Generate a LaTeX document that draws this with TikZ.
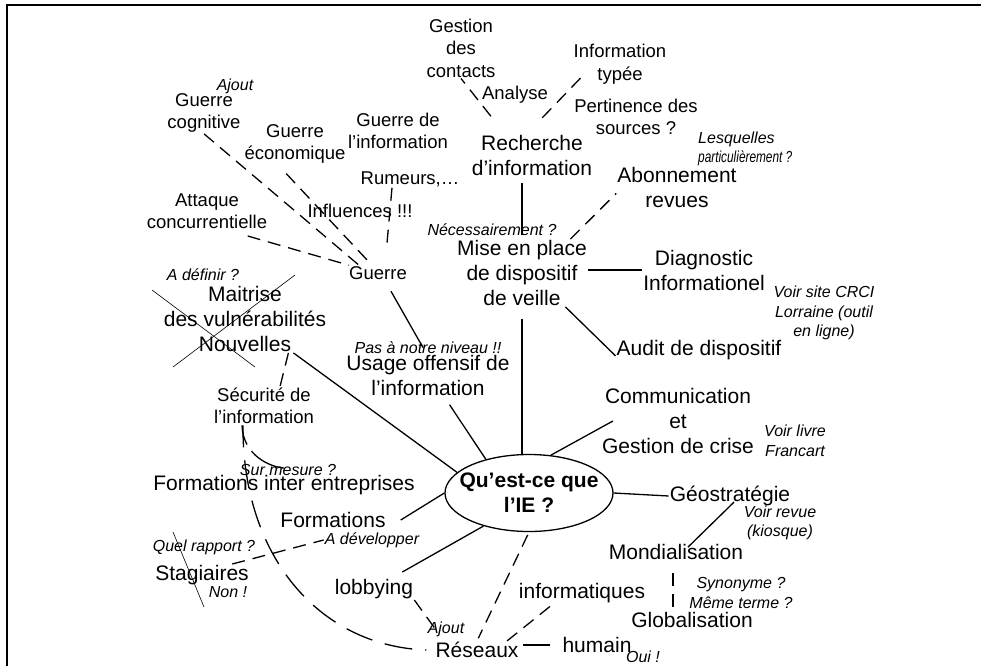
\documentclass[tikz,border=0pt]{standalone}
\usepackage{graphicx}
\usepackage{fontspec}
\setmainfont{Liberation Sans}
\usetikzlibrary{shapes.geometric,calc}

\begin{document}
\begin{tikzpicture}[x=1pt,y=-1pt,
	big/.style={font=\fontsize{21}{25}\selectfont,align=center,inner sep=1pt},
	med/.style={font=\fontsize{18.5}{22.5}\selectfont,align=center,inner sep=1pt},
	note/.style={font=\fontsize{16}{19.5}\selectfont\itshape,align=center,inner sep=1pt},
	link/.style={line width=1.3pt},
	dashy/.style={line width=1.3pt,dash pattern=on 13pt off 8pt},
	strike/.style={line width=0.6pt}]
\useasboundingbox (0,0) rectangle (981,666);
\draw[line width=1.2pt] (7,666) -- (7,5) -- (981,5);

% Centre
\node[ellipse,draw,line width=1.3pt,inner xsep=-11pt,inner ysep=4.5pt,
	minimum width=168pt,minimum height=77pt,
	font=\bfseries\fontsize{21}{25}\selectfont,align=center] (ie) at (529,493) {Qu’est-ce que\\l’IE ?};

% Veille
\node[big] (rech) at (532,155) {Recherche\\d’information};
\node[big] (mise) at (522,273) {Mise en place\\de dispositif\\de veille};
\node[big] (abon) at (677,187) {Abonnement\\revues};
\node[big] (diag) at (704,270) {Diagnostic\\Informationel};
\node[big] (audit) at (699,350) {Audit de dispositif};
\node[med] (gestion) at (461,48) {Gestion\\des\\contacts};
\node[med] (analyse) at (515,95) {Analyse};
\node[med] (infotype) at (620,64) {Information\\typée};
\node[med] (pert) at (636,117) {Pertinence des\\sources ?};
\node[note,align=left,anchor=west] (lesq) at (697,149) {Lesquelles\\\scalebox{0.74}[1]{particulièrement ?}};
\node[note] (neces) at (492,230) {Nécessairement ?};
\node[note] (crci) at (824,313) {Voir site CRCI\\Lorraine (outil\\en ligne)};

% Communication, géostratégie
\node[big] (comm) at (678,421) {Communication\\et\\Gestion de crise};
\node[note] (livre) at (795,441) {Voir livre\\Francart};
\node[big] (geo) at (730,496) {Géostratégie};
\node[note] (revue) at (780,523) {Voir revue\\(kiosque)};
\node[big] (mond) at (676,552) {Mondialisation};
\node[note] (synon) at (741,593) {Synonyme ?\\Même terme ?};
\node[big] (glob) at (692,620) {Globalisation};

% Réseaux
\node[big] (humain) at (597,645) {humain};
\node[note] (oui) at (643,657) {Oui !};
\node[big] (reseaux) at (477,650) {Réseaux};
\node[note] (ajout2) at (446,629) {Ajout};
\node[big] (info) at (582,593) {informatiques};
\node[big] (lobby) at (374,589) {lobbying};

% Formations
\node[big] (form) at (333,520) {Formations};
\node[note] (adev) at (372,540) {A développer};
\node[big] (forminter) at (284,485) {Formations inter entreprises};
\node[note] (surmes) at (288,470) {Sur mesure ?};
\node[big] (stag) at (202,575) {Stagiaires};
\node[note] (quel) at (204,547) {Quel rapport ?};
\node[note] (non) at (228,592) {Non !};

% Usage offensif, vulnérabilités
\node[big] (usage) at (428,375) {Usage offensif de\\l’information};
\node[note] (pasniv) at (428,348) {Pas à notre niveau !!};
\node[big] (maitr) at (245,319) {Maitrise\\des vulnérabilités\\Nouvelles};
\node[note] (adef) at (203,275) {A définir ?};
\node[med] (secu) at (264,406) {Sécurité de\\l’information};

% Guerre
\node[med] (guerre) at (378,273) {Guerre};
\node[med] (gcog) at (204,113) {Guerre\\cognitive};
\node[note] (ajout1) at (235,86) {Ajout};
\node[med] (geco) at (295,144) {Guerre\\économique};
\node[med] (attaque) at (207,211) {Attaque\\concurrentielle};
\node[med] (ginfo) at (398,131) {Guerre de\\l’information};
\node[med] (rumeurs) at (410,179) {Rumeurs,…};
\node[med] (influ) at (360,211) {Influences !!!};

% Links around the veille
\draw[link,shorten <=4pt,shorten >=7pt] (mise.north) -- (mise.north |- rech.south);
\draw[link] (mise.east |- diag.west) -- (diag.west);
\draw[link] (mise.-38) -- (audit.184);
\draw[link,shorten <=12pt] (mise.south) -- (mise.south |- ie.north);
\draw[dashy] (mise.35) -- (abon.186);
\draw[dashy,shorten <=22pt] (rech.142) -- (gestion.south);
\draw[dashy,shorten <=22pt] (rech.103) -- ([xshift=8pt,yshift=7pt]infotype.south west);

% Spokes of the ellipse
\draw[link] (ie.60) -- ([xshift=12pt]comm.west);
\draw[link] (ie.east) -- (geo.west);
\draw[link,shorten >=10pt] (ie.142) -- ([xshift=16pt]usage.south);
\draw[link] (ie.164) -- (maitr.-35);
\draw[link] (ie.west) -- ([xshift=14pt]form.east);
\draw[link] (ie.216) -- ([xshift=-12pt,yshift=6pt]lobby.north east);
\draw[dashy,shorten <=3pt,shorten >=3pt] (ie.south) -- (reseaux.north);

% Géostratégie branch
\draw[link] ([xshift=4pt,yshift=5pt]geo.south) -- ([xshift=12pt,yshift=-4pt]mond.north);
\draw[dashy,shorten <=12pt] ([xshift=-3pt]mond.south) -- ([xshift=-3pt]mond.south |- glob.north);

% Réseaux branch
\draw[dashy,shorten >=15pt] (lobby.south east) -- ([xshift=-33pt]reseaux.north);
\draw[dashy,shorten <=4pt] ([xshift=-29pt]info.south) -- ([xshift=30pt]reseaux.north);
\draw[link,shorten <=11pt,shorten >=3pt] (humain.west) -- (humain.west -| reseaux.east);

% Formations and sécurité
\draw[dashy] (stag.20) -- (adev.west);
\draw[line width=1.3pt,dash pattern=on 20pt off 8pt on 40pt off 10pt]
	([xshift=-22pt]secu.south) .. controls +(1,30) and +(-14,-1) .. ([yshift=6pt]forminter.north);
\draw[line width=1.3pt,dash pattern=on 28pt off 13pt,dash phase=6pt]
	([xshift=-21pt]secu.south) .. controls +(-1,130) and +(-108,-4) .. ([xshift=-8pt]reseaux.west);
\draw[dashy] (maitr.-38) -- ([xshift=16pt]secu.north);

% Guerre branch
\draw[link,shorten <=12pt] ([xshift=7pt]guerre.south) -- ([xshift=-5pt,yshift=6pt]usage.north);
\draw[dashy,shorten >=15pt] ([xshift=-18pt]rumeurs.south) -- ([xshift=7pt]guerre.north);
\draw[dashy] (gcog.south) -- ([xshift=11pt]guerre.north west);
\draw[dashy,shorten <=12pt] ([xshift=-17pt]geco.south) -- ([xshift=-6pt]guerre.north);
\draw[dashy,shorten <=22pt] (attaque.-44) -- (guerre.165);

% Crossed out
\draw[strike] ($(maitr)+(-93,-29)$) -- ($(maitr)+(10,48)$);
\draw[strike] ($(maitr)+(50,-44)$) -- ($(maitr)+(-72,48)$);
\draw[strike] ($(stag)+(-29,-43)$) -- ($(stag)+(2,32)$);
\end{tikzpicture}
\end{document}
